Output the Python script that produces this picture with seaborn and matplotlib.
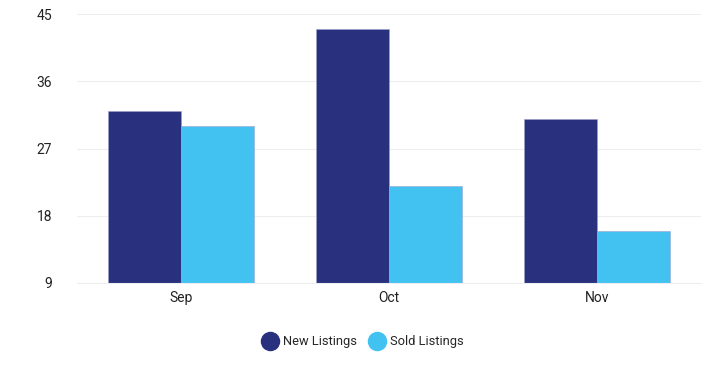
import matplotlib
matplotlib.use("Agg")
import matplotlib.pyplot as plt
import seaborn as sns
import pandas as pd
from matplotlib.lines import Line2D

months = ["Sep", "Oct", "Nov"]
new_listings = [32, 43, 31]
sold_listings = [30, 22, 16]
series_names = ["New Listings", "Sold Listings"]
y_ticks = [9, 18, 27, 36, 45]
colors = ["#29307E", "#41C2F1"]

df = pd.DataFrame({
    "Month": months * 2,
    "Value": new_listings + sold_listings,
    "Series": [series_names[0]] * 3 + [series_names[1]] * 3,
})

sns.set_style("white")
plt.rcParams["font.family"] = ["Roboto", "DejaVu Sans"]

fig = plt.figure(figsize=(7.27, 3.71), dpi=100)
ax = fig.add_axes([77 / 727, 1 - 283 / 371, (701 - 77) / 727, (283 - 14) / 371])

sns.barplot(data=df, x="Month", y="Value", hue="Series", palette=colors,
            saturation=1, width=0.7, ax=ax, legend=False,
            edgecolor="#9da1cc", linewidth=0.4)

ax.set_ylim(9, 45)
ax.set_xlim(-0.5, 2.5)
ax.set_yticks(y_ticks)
ax.set_yticklabels([str(t) for t in y_ticks], fontsize=10, color="#222222")
ax.tick_params(axis="y", length=0, pad=18)
ax.tick_params(axis="x", length=0, pad=6, labelsize=10, labelcolor="#222222")
ax.set_xlabel("")
ax.set_ylabel("")
ax.yaxis.grid(True, color="#eeeeee", linewidth=0.8)
ax.set_axisbelow(True)
for s in ["left", "right", "top"]:
    ax.spines[s].set_visible(False)
ax.spines["bottom"].set_color("#eeeeee")
ax.spines["bottom"].set_linewidth(0.8)

handles = [Line2D([0], [0], marker="o", linestyle="", markersize=13,
                  markerfacecolor=c, markeredgecolor=c) for c in colors]
fig.legend(handles, series_names, loc="center", bbox_to_anchor=(363 / 727, 1 - 342 / 371),
           ncol=2, frameon=False, fontsize=9.3, handletextpad=0.4, columnspacing=0.9,
           handlelength=1.2)

fig.savefig("out.png", dpi=100)
